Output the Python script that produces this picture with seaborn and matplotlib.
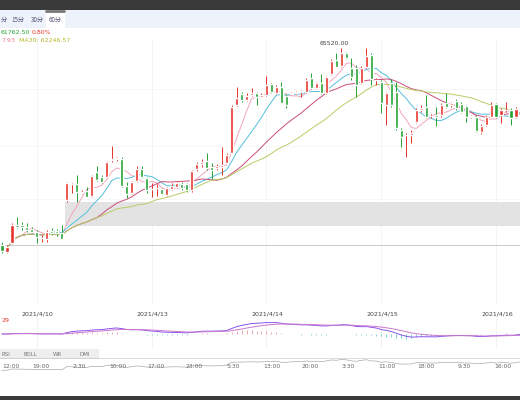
import numpy as np
import pandas as pd
import matplotlib
matplotlib.use("Agg")
import matplotlib.pyplot as plt
import seaborn as sns

# candle data (open, close, high, low)
opens = [59620,59420,59670,60220,60220,60170,60100,60020,59820,59790,60050,60030,59990,60970,61440,61450,61170,61240,61090,61800,61650,61650,62180,62210,62200,61400,61170,61550,61910,61620,61290,61320,61290,61120,61310,61370,61450,61450,61270,61890,62050,62150,61950,61920,61970,62090,62390,63820,64140,63970,64120,64190,
         64070,64120,64450,64190,64370,64100,64160,64170,64210,64220,64620,64320,64470,64170,64750,65170,64990,65370,64920,64920,64470,64970,65320,64560,64520,63820,64470,64220,63070,62910,62920,63320,63670,63770,63480,63520,63520,63890,63830,63950,63850,63790,63460,63470,63020,63220,63470,63850,63520,63660,63670,63450,63670]
closes = [59440,59570,60220,60170,60150,60070,60020,59850,59830,60020,59990,59970,59810,61490,61460,61210,61220,61070,61690,61570,61520,62120,62200,62230,61400,61150,61520,61890,61650,61270,61300,61330,61150,61320,61390,61470,61320,61270,61850,62050,62120,61920,61870,61990,62020,62320,63770,64020,63970,64090,64170,64050,
          64120,64420,64220,64370,63890,63820,64170,64220,64220,64570,64320,64470,64190,64650,65150,64970,65370,65220,64670,64420,64920,65290,64590,64580,63870,64170,63820,63120,62870,62930,62990,63670,63720,63470,63500,63450,63820,63770,63870,63720,63620,63470,63480,63050,63190,63470,63820,63470,63670,63680,63420,63690,64170]
highs = [59720,59620,60270,60470,60320,60270,60170,60070,59920,60070,60120,60090,60220,61520,61490,61720,61270,61370,61720,61990,61720,62150,62590,62270,62250,61520,61550,61990,61990,61670,61470,61450,61320,61370,61470,61520,61520,61490,61870,62120,62190,62370,62070,62050,62550,62370,63820,64370,64220,64170,64320,64220,
         64170,64690,64490,64420,64520,64150,64220,64250,64270,64620,64790,64520,64750,64690,65190,65370,65520,65420,65220,65020,64990,65520,65370,64620,64570,64220,64590,64520,63120,62970,63070,63720,63820,64120,63550,63770,63890,64170,63920,63990,63920,63820,63520,63520,63250,63520,63920,63890,63720,63920,63720,63770,64270]
lows = [59370,59370,59650,60120,60070,60020,59970,59690,59720,59720,59920,59890,59790,60920,61170,60920,61150,61050,61070,61550,61490,61630,62120,62150,61370,61020,61150,61520,61620,61170,61070,61090,61120,61090,61270,61320,61270,61220,61220,61850,61970,61870,61590,61870,61720,62070,62370,63790,63920,63950,64090,63820,
        64050,64090,64190,64150,63870,63720,64120,64150,64050,64190,64290,64290,64150,64150,64720,64950,64950,65190,64570,64070,64450,64920,64420,64420,63570,63220,63770,63070,62570,62270,62670,63270,63620,63420,63420,63190,63470,63720,63770,63670,63570,63320,63420,63020,62950,63190,63450,63420,63270,63620,63220,63420,63620]
date_labels = ["2021/4/10", "2021/4/13", "2021/4/14", "2021/4/15", "2021/4/16"]
date_idx = [7, 30, 53, 76, 99]
nav_labels = ["12:00","19:00","2:30","10:00","17:00","23:00","5:30","13:00","20:00","3:30","11:00","18:00","9:30","16:00"]
band_low, band_high = 60200, 60900
ref_line = 59620

df = pd.DataFrame({"i": np.arange(len(opens)), "open": opens, "close": closes, "high": highs, "low": lows})
for n in (5, 10, 20, 30):
    df[f"MA{n}"] = df["close"].rolling(n, min_periods=1).mean()
ema12 = df["close"].ewm(span=12).mean()
ema26 = df["close"].ewm(span=26).mean()
df["dif"] = ema12 - ema26
df["dea"] = df["dif"].ewm(span=9).mean()
df["hist"] = df["dif"] - df["dea"]

sns.set_theme(style="white")
plt.rcParams['font.family'] = ['DejaVu Sans']
W, H = 520, 400
fig = plt.figure(figsize=(5.2, 4.0), dpi=100)
def ax_px(x0, y0, w, h):
    return fig.add_axes([x0 / W, 1 - (y0 + h) / H, w / W, h / H])

RED, GREEN = "#e5352b", "#23a233"
xlim = (-0.4, 103.8)

# top bars
top = ax_px(0, 0, 520, 10); top.set_facecolor("#3a3a3a"); top.set_xticks([]); top.set_yticks([])
for s in top.spines.values(): s.set_visible(False)
tab = ax_px(0, 10, 520, 18); tab.set_facecolor("#eef3fb"); tab.set_xticks([]); tab.set_yticks([])
tab.set_xlim(0, 520); tab.set_ylim(18, 0)
for s in tab.spines.values(): s.set_visible(False)
tab.add_patch(plt.Rectangle((46, 1), 18, 17, color="white"))
tab.plot([46, 64], [1, 1], color="#777777", lw=2)
for x, t in [(1, "分"), (18, "15分"), (37, "30分"), (55, "60分")]:
    tab.text(x, 10, t, fontsize=4.5, color="#555577", ha="left" if x == 1 else "center", va="center",
             family=["Noto Sans CJK SC", "DejaVu Sans"])

# main price chart
ax = ax_px(0, 40, 520, 265)
up = df["close"] >= df["open"]
colors = np.where(up, RED, GREEN)
ax.vlines(df["i"], df["low"], df["high"], colors=colors, lw=0.7, zorder=3)
ax.bar(df["i"], (df["close"] - df["open"]).abs().clip(lower=15), bottom=np.minimum(df["open"], df["close"]),
       color=colors, width=0.62, zorder=4)
for col, c in [("MA5", "#f3a5bf"), ("MA10", "#55bfdd"), ("MA20", "#cc4d77"), ("MA30", "#b8cc66")]:
    sns.lineplot(data=df, x="i", y=col, ax=ax, color=c, lw=0.7, zorder=2)
ax.fill_between([12.6, 104], band_low, band_high, color="#e3e3e3", zorder=1, lw=0)
ax.axhline(ref_line, color="#cfcfcf", lw=0.8, zorder=1)
for d in date_idx:
    ax.axvline(d, color="#f2f2f2", lw=0.6, zorder=0)
for p in (64300, 62600, 61000):
    ax.axhline(p, color="#f6f6f6", lw=0.6, zorder=0)
imax = int(df["high"].idxmax())
ax.text(imax - 1.5, df["high"].max() + 80, f"{df['high'].max():.2f}", fontsize=4.5, color="#444444", ha="center", va="bottom")
ax.set_xlim(*xlim); ax.set_ylim(57820, 65770)
ax.set_xticks([]); ax.set_yticks([]); ax.set_xlabel(""); ax.set_ylabel("")
for s in ax.spines.values(): s.set_visible(False)
fig.text(1 / W, 1 - 32 / H, "61762.50", fontsize=4.5, color="#23a233", va="center")
fig.text(32 / W, 1 - 32 / H, "0.80%", fontsize=4.5, color=RED, va="center")
fig.text(1 / W, 1 - 40 / H, "7.93", fontsize=4.5, color="#f08090", va="center")
fig.text(19 / W, 1 - 40 / H, "MA30: 62246.57", fontsize=4.5, color="#b8b830", va="center")

# date labels
for d, t in zip(date_idx, date_labels):
    fig.text((2 + 5 * d) / W, 1 - 314 / H, t, fontsize=4.5, color="#444444", ha="center", va="center")
fig.text(1 / W, 1 - 320 / H, "29", fontsize=4.5, color=RED, va="center")

# MACD panel
mx = ax_px(0, 318, 520, 32)
mx.vlines(df["i"], 0, df["hist"], colors=np.where(df["hist"] >= 0, "#e89a9a", "#66c8cc"), lw=0.6)
sns.lineplot(data=df, x="i", y="dif", ax=mx, color="#8855ee", lw=0.7)
sns.lineplot(data=df, x="i", y="dea", ax=mx, color="#cc77cc", lw=0.7)
mx.set_xlim(*xlim)
r = df[["dif", "dea"]].abs().max().max()
mx.set_ylim(-r * 1.4, r * 1.4)
for d in date_idx:
    mx.axvline(d, color="#f0f0f0", lw=0.6, zorder=0)
mx.set_xticks([]); mx.set_yticks([]); mx.set_xlabel(""); mx.set_ylabel("")
for s in mx.spines.values(): s.set_visible(False)

# indicator tabs
tb = ax_px(0, 349, 520, 10); tb.set_xlim(0, 520); tb.set_ylim(10, 0)
tb.set_xticks([]); tb.set_yticks([])
for s in tb.spines.values(): s.set_visible(False)
tb.add_patch(plt.Rectangle((0, 0), 98, 9, color="#eeeeee"))
for x, t in [(6, "RSI"), (30, "BOLL"), (57, "WR"), (85, "DMI")]:
    tb.text(x, 5, t, fontsize=4, color="#777777", ha="center", va="center")
tb.plot([0, 520], [9.5, 9.5], color="#555555", lw=1)

# navigator
nv = ax_px(0, 359, 520, 12)
sns.lineplot(data=df, x="i", y="close", ax=nv, color="#aaaaaa", lw=0.5)
nv.set_xlim(*xlim); nv.set_xticks([]); nv.set_yticks([]); nv.set_xlabel(""); nv.set_ylabel("")
for s in nv.spines.values(): s.set_visible(False)
nv.axhline(nv.get_ylim()[0], color="#dddddd", lw=0.6)
for k, t in enumerate(nav_labels):
    x = 2 + 38.5 * k
    fig.text(max(x, 1) / W, 1 - 367 / H, t, fontsize=4.3, color="#666666",
             ha="left" if k == 0 else "center", va="center")

bot = ax_px(0, 396, 520, 4); bot.set_facecolor("#3a3a3a"); bot.set_xticks([]); bot.set_yticks([])
for s in bot.spines.values(): s.set_visible(False)

fig.savefig("out.png", dpi=100)
